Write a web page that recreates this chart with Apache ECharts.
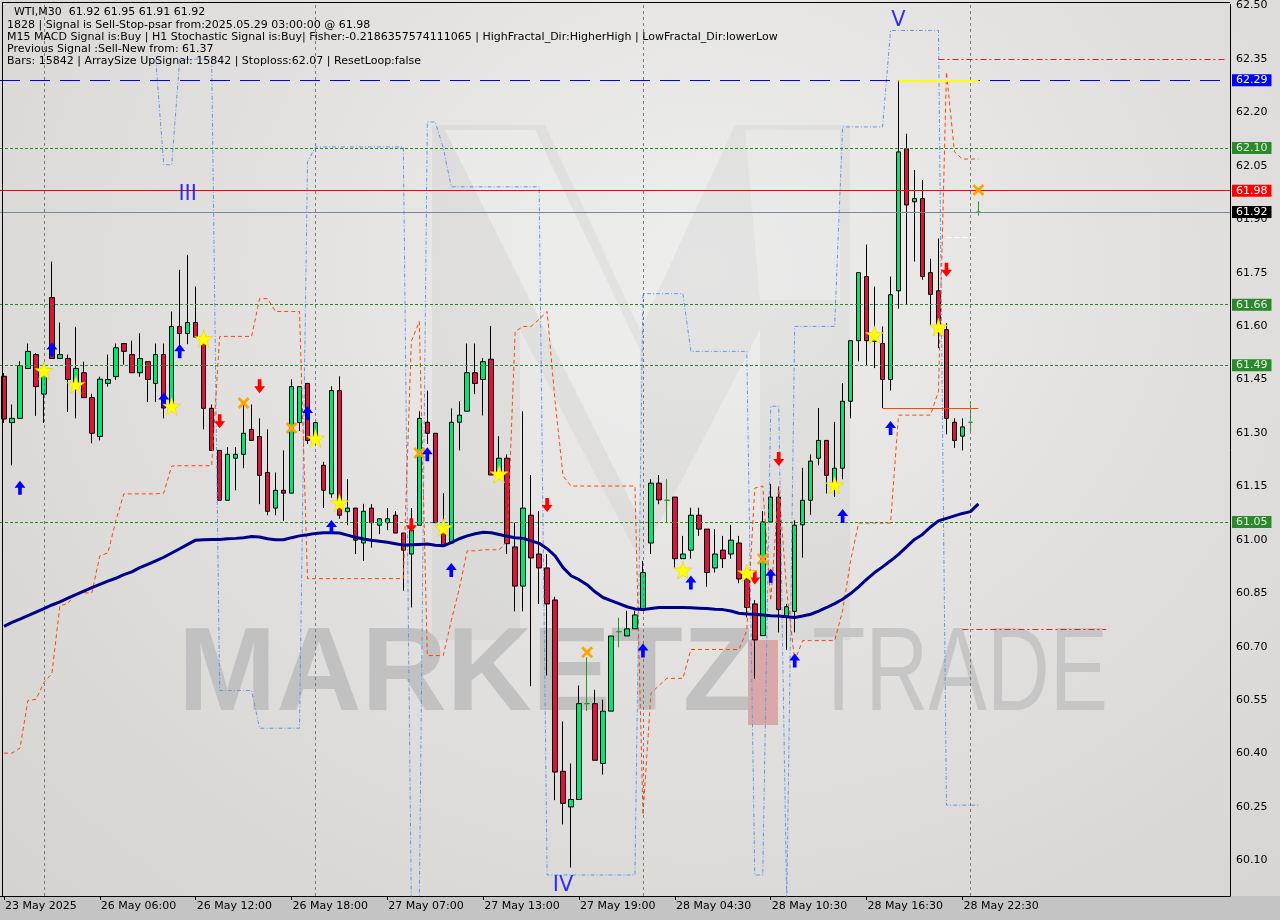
<!DOCTYPE html>
<html><head><meta charset="utf-8">
<script src="https://cdn.jsdelivr.net/npm/echarts@6/dist/echarts.min.js"></script>
<style>
html,body{margin:0;padding:0;width:1280px;height:920px;overflow:hidden;background:#c4c4c4}
#bg{position:absolute;left:0;top:0;width:1280px;height:896px;background:radial-gradient(ellipse at 55% 30%, #eeeeed 0%, #e2e1df 45%, #d5d3d0 100%)}
#chart{position:absolute;left:0;top:0;width:1280px;height:920px}
</style></head><body><div id="bg"></div><div id="chart"></div>
<script>
// ---------- data ----------
const tickIndices = [0,12,24,36,48,60,72,84,96,108,120];
const tickLabels = ['23 May 2025','26 May 06:00','26 May 12:00','26 May 18:00','27 May 07:00','27 May 13:00','27 May 19:00','28 May 04:30','28 May 10:30','28 May 16:30','28 May 22:30'];
const daySeparators = [5,39,80,121];
// candles: [open, close, low, high]
const candles = [
[61.459,61.339,61.328,61.468],[61.329,61.341,61.209,61.380],[61.341,61.489,61.341,61.501],[61.481,61.529,61.481,61.551],[61.520,61.430,61.348,61.524],
[61.409,61.464,61.328,61.496],[61.680,61.509,61.509,61.781],[61.509,61.520,61.509,61.610],[61.509,61.450,61.359,61.520],[61.426,61.481,61.341,61.598],
[61.469,61.399,61.399,61.500],[61.399,61.299,61.271,61.410],[61.290,61.451,61.279,61.458],[61.439,61.450,61.430,61.520],[61.458,61.539,61.449,61.551],
[61.551,61.529,61.492,61.551],[61.520,61.469,61.469,61.559],[61.469,61.509,61.458,61.580],[61.500,61.450,61.387,61.500],[61.439,61.520,61.387,61.551],
[61.520,61.370,61.341,61.551],[61.370,61.599,61.361,61.641],[61.599,61.579,61.529,61.758],[61.579,61.610,61.549,61.800],[61.610,61.569,61.569,61.711],
[61.557,61.369,61.310,61.576],[61.369,61.251,61.251,61.380],[61.251,61.111,61.111,61.251],[61.111,61.240,61.111,61.260],[61.229,61.240,61.139,61.260],
[61.240,61.299,61.201,61.380],[61.310,61.279,61.279,61.380],[61.290,61.181,61.100,61.341],[61.189,61.080,61.069,61.310],[61.089,61.139,61.069,61.189],
[61.139,61.131,61.053,61.251],[61.131,61.430,61.131,61.451],[61.329,61.430,61.305,61.430],[61.439,61.279,61.269,61.439],[61.279,61.329,61.279,61.329],
[61.209,61.139,61.089,61.219],[61.129,61.419,61.118,61.431],[61.419,61.069,61.059,61.459],[61.079,61.089,61.041,61.170],[61.089,60.999,60.960,61.089],
[60.991,61.080,60.941,61.101],[61.089,61.048,60.978,61.100],[61.041,61.059,61.016,61.059],[61.048,61.059,61.027,61.089],[61.069,61.019,61.019,61.081],
[61.019,60.971,60.857,61.019],[60.960,61.027,60.810,61.089],[61.041,61.341,61.041,61.361],[61.330,61.299,61.269,61.419],[61.299,61.048,61.048,61.299],
[61.025,60.983,60.983,61.131],[60.991,61.330,60.991,61.369],[61.330,61.350,61.251,61.389],[61.361,61.469,61.361,61.551],[61.469,61.439,61.409,61.551],
[61.450,61.500,61.349,61.510],[61.507,61.182,61.182,61.600],[61.182,61.229,61.182,61.291],[61.229,60.989,60.960,61.240],[60.980,60.870,60.799,61.048],
[60.870,61.089,60.799,61.361],[61.069,60.949,60.589,61.182],[60.960,60.921,60.820,61.081],[60.921,60.820,60.619,60.960],[60.831,60.348,60.269,60.840],
[60.350,60.260,60.201,60.490],[60.250,60.271,60.080,60.372],[60.271,60.540,60.271,60.591],[60.540,60.540,60.519,60.670],[60.540,60.381,60.381,60.579],
[60.372,60.519,60.341,60.551],[60.519,60.730,60.519,60.730],[60.742,60.742,60.698,60.781],[60.730,60.750,60.730,60.801],[60.750,60.789,60.750,60.801],
[60.803,60.908,60.803,60.941],[60.991,61.159,60.960,61.170],[61.159,61.112,61.100,61.182],[61.111,61.111,61.048,61.170],[61.120,60.947,60.922,61.120],
[60.947,60.960,60.947,61.011],[60.971,61.069,60.947,61.090],[61.069,61.030,61.011,61.090],[61.030,60.908,60.868,61.030],[60.921,60.960,60.908,61.030],
[60.971,60.947,60.921,61.011],[60.960,60.999,60.947,61.042],[60.991,60.890,60.878,61.011],[60.890,60.810,60.782,60.913],[60.820,60.719,60.610,60.831],
[60.731,61.050,60.731,61.081],[61.050,61.120,61.050,61.157],[61.120,60.804,60.740,61.151],[60.782,60.812,60.691,60.820],[60.799,61.041,60.740,61.055],
[61.042,61.111,60.950,61.202],[61.111,61.221,61.070,61.240],[61.229,61.279,61.209,61.370],[61.279,61.181,61.130,61.279],[61.160,61.201,61.120,61.331],
[61.201,61.389,61.170,61.440],[61.389,61.559,61.341,61.559],[61.559,61.750,61.501,61.750],[61.739,61.559,61.490,61.829],[61.557,61.577,61.482,61.711],
[61.551,61.450,61.370,61.599],[61.450,61.688,61.419,61.739],[61.699,62.089,61.649,62.290],[62.098,61.940,61.660,62.140],[61.949,61.958,61.781,62.038],
[61.958,61.739,61.730,62.010],[61.750,61.689,61.604,61.789],[61.699,61.604,61.538,61.846],[61.590,61.341,61.296,61.608],[61.330,61.279,61.258,61.341],
[61.291,61.317,61.251,61.341],[61.330,61.330,61.300,61.380],[61.920,61.920,61.910,61.950]
];
const maLine = [60.757,60.768,60.777,60.787,60.797,60.807,60.817,60.826,60.836,60.846,
60.856,60.866,60.875,60.884,60.892,60.902,60.910,60.922,60.931,60.941,
60.951,60.963,60.975,60.987,60.999,61.000,61.001,61.001,61.003,61.004,
61.006,61.009,61.008,61.003,61.000,61.000,61.006,61.011,61.014,61.018,
61.020,61.020,61.019,61.013,61.007,61.002,60.999,60.996,60.993,60.989,
60.985,60.986,60.987,60.988,60.985,60.983,60.992,61.003,61.011,61.017,
61.021,61.020,61.015,61.010,61.006,61.004,60.997,60.990,60.975,60.955,
60.922,60.899,60.888,60.874,60.854,60.838,60.829,60.821,60.812,60.806,
60.804,60.807,60.810,60.810,60.810,60.810,60.809,60.808,60.807,60.805,
60.804,60.800,60.794,60.792,60.791,60.789,60.787,60.786,60.784,60.782,
60.786,60.791,60.800,60.810,60.821,60.833,60.849,60.868,60.889,60.908,
60.924,60.941,60.959,60.980,61.001,61.015,61.036,61.053,61.060,61.067,
61.074,61.079,61.101];
const blueChannel = [null,null,null,null,null,null,null,null,null,null,
null,null,null,null,null,null,null,null,null,62.349,
62.053,62.053,62.349,62.349,62.349,62.349,62.349,60.577,60.577,60.577,
60.577,60.577,60.471,60.471,60.471,60.471,60.471,60.471,62.061,62.103,
62.103,62.103,62.103,62.103,62.103,62.103,62.103,62.103,62.103,62.103,
62.103,59.98,59.98,62.173,62.173,62.10,61.991,61.991,61.991,61.991,
61.991,61.991,61.991,61.991,61.991,61.991,61.991,61.991,60.059,60.059,
60.059,60.059,60.059,60.059,60.059,60.059,60.059,60.059,60.059,60.059,
61.691,61.691,61.691,61.691,61.691,61.691,61.529,61.529,61.529,61.529,
61.529,61.529,61.529,61.529,60.059,60.059,61.375,61.375,59.98,61.599,
61.599,61.599,61.599,61.599,61.599,62.159,62.159,62.159,62.159,62.159,
62.159,62.430,62.430,62.430,62.430,62.430,62.430,62.430,60.255,60.255,
60.255,60.255,60.255];
const orangeStop = [60.401,60.401,60.415,60.549,60.552,60.599,60.625,60.815,60.821,60.851,
60.851,60.851,60.955,60.963,61.053,61.129,61.129,61.129,61.129,61.129,
61.131,61.207,61.208,61.208,61.208,61.208,61.208,61.571,61.571,61.571,
61.571,61.571,61.677,61.677,61.641,61.641,61.641,61.641,60.891,60.891,
60.891,60.891,60.891,60.891,60.891,60.891,60.891,60.891,60.891,60.891,
60.891,61.557,61.613,60.675,60.675,60.675,60.773,60.863,60.969,60.969,
60.972,60.972,60.972,60.997,61.585,61.599,61.599,61.619,61.641,61.389,
61.179,61.151,61.151,61.151,61.151,61.151,61.151,61.151,61.151,61.151,
60.227,60.569,60.591,60.611,60.611,60.611,60.692,60.692,60.692,60.692,
60.692,60.692,60.692,60.745,61.145,61.151,60.829,61.151,60.857,60.661,
60.717,60.717,60.717,60.717,60.717,60.801,60.941,61.047,61.047,61.047,
61.047,61.047,61.350,61.350,61.350,61.350,61.350,61.417,62.313,62.089,
62.069,62.069,62.069];
const upArrows = [[2,61.146],[6,61.534],[20,61.394],[22,61.529],[38,61.356],[41,61.036],[53,61.240],[56,60.915],[80,60.689],[86,60.880],[96,60.899],[99,60.661],[105,61.067],[111,61.314]];
const downArrows = [[27,61.333],[32,61.431],[51,61.041],[68,61.098],[94,60.894],[97,61.227],[118,61.758]];
const stars = [[5,61.475],[9,61.436],[21,61.375],[25,61.565],[39,61.285],[42,61.104],[55,61.034],[62,61.185],[85,60.915],[93,60.907],[104,61.154],[109,61.576],[117,61.597]];
const crosses = [[30,61.384],[36,61.314],[52,61.244],[73,60.684],[95,60.946],[122,61.982]];
const waveLabels = [[23,61.969,'III'],[112,62.459,'V'],[70,60.028,'IV']];
const levelBlue = 62.29, levelRed = 61.98, levelBid = 61.92;
const levelsGreen = [62.10, 61.66, 61.49, 61.05];
const signalHigh = 62.29, signalHighFrom = 112, signalHighTo = 122;
const stopLevel = 62.35, stopFrom = 117, stopTo = 153;
const prevSignal = 61.37, prevFrom = 110, prevTo = 122;
const targetLevel = 60.75, targetFrom = 120, targetTo = 138;
const whiteLevel = 61.85, whiteFrom = 118, whiteTo = 122;
const headerLines = [
 '  WTI,M30  61.92 61.95 61.91 61.92',
 '1828 | Signal is Sell-Stop-psar from:2025.05.29 03:00:00 @ 61.98',
 'M15 MACD Signal is:Buy | H1 Stochastic Signal is:Buy| Fisher:-0.2186357574111065 | HighFractal_Dir:HigherHigh | LowFractal_Dir:lowerLow',
 'Previous Signal :Sell-New from: 61.37',
 'Bars: 15842 | ArraySize UpSignal: 15842 | Stoploss:62.07 | ResetLoop:false'
];
// ---------- chart ----------
const NSLOT = 154;
const categories = Array.from({length: NSLOT}, (_, i) => String(i));
const FONT = 'DejaVu Sans';
const chart = echarts.init(document.getElementById('chart'), null, {renderer: 'canvas'});

function lvlLabel(bg, fg, v){
  return {show:true, position:'end', distance:2, formatter: v.toFixed(2), backgroundColor:bg, color:fg,
    padding:[1,4,0,4], fontSize:11, fontFamily:FONT};
}
const markData = [];
daySeparators.forEach(i => markData.push({xAxis:i, lineStyle:{color:'#7a7a7a', type:[3,3], width:1}, label:{show:false}}));
markData.push({yAxis:levelBlue, lineStyle:{color:'#0000ff', type:[20,10], width:1}, label:lvlLabel('#0000ff','#ffffff',levelBlue)});
levelsGreen.forEach(v => markData.push({yAxis:v, lineStyle:{color:'#2a8a2a', type:[3,2], width:1}, label:lvlLabel('#2a8a2a','#e8e8e8',v)}));
markData.push({yAxis:levelRed, lineStyle:{color:'#ff0000', type:'solid', width:1}, label:lvlLabel('#ff0000','#ffffff',levelRed)});
markData.push({yAxis:levelBid, lineStyle:{color:'#778899', type:'solid', width:1}, label:lvlLabel('#000000','#ffffff',levelBid)});
function seg(v, a, b, style){ return [{coord:[a, v], lineStyle:style, label:{show:false}}, {coord:[b, v]}]; }
markData.push(seg(signalHigh, signalHighFrom, signalHighTo, {color:'#ffff00', width:2, type:'solid'}));
markData.push(seg(stopLevel, stopFrom, stopTo, {color:'#d42020', width:1, type:[6,3,2,3]}));
markData.push(seg(prevSignal, prevFrom, prevTo, {color:'#ff4500', width:1, type:'solid'}));
markData.push(seg(targetLevel, targetFrom, targetTo, {color:'#e02020', width:1, type:[6,3,2,3]}));
markData.push(seg(whiteLevel, whiteFrom, whiteTo, {color:'#ffffff', width:1, type:[5,3]}));

const upPath = 'path://M6,0 L12,7 L8,7 L8,14 L4,14 L4,7 L0,7 Z';
const downPath = 'path://M4,0 L8,0 L8,7 L12,7 L6,14 L0,7 L4,7 Z';
const starPath = 'path://M50,0 L61,35 L98,35 L68,57 L79,91 L50,70 L21,91 L32,57 L2,35 L39,35 Z';
const xPath = 'path://M0,2 L2,0 L6,4 L10,0 L12,2 L8,6 L12,10 L10,12 L6,8 L2,12 L0,10 L4,6 Z';

const graphics = [
  // faint logo "M" behind the chart
  {type:'polygon', z:0, silent:true, shape:{points:[[432,640],[432,125],[545,125],[640,330],[735,125],[850,125],[850,640],[760,640],[760,330],[640,560],[520,330],[520,640]]},
    style:{fill:'rgba(150,150,150,0.10)'}},
  {type:'polygon', z:0, silent:true, shape:{points:[[445,130],[535,130],[640,350],[640,520]]}, style:{fill:'rgba(255,255,255,0.35)'}},
  {type:'polygon', z:0, silent:true, shape:{points:[[745,130],[840,130],[840,300],[760,300]]}, style:{fill:'rgba(255,255,255,0.25)'}},
  {type:'text', z:0, silent:true, style:{text:'MARKETZ', x:178, y:677, verticalAlign:'middle', font:'bold 118px "Liberation Sans"', fill:'#c1c1c1'}},
  {type:'rect', z:0, silent:true, shape:{x:748, y:640, width:30, height:85}, style:{fill:'#d9a9a9'}},
  {type:'text', z:0, silent:true, scaleX:0.74, x:812, style:{text:'TRADE', x:0, y:677, verticalAlign:'middle', font:'118px "Liberation Sans"', fill:'#c6c6c6'}},
  {type:'line', z:50, silent:true, shape:{x1:2.5, y1:2, x2:2.5, y2:896}, style:{stroke:'#000', lineWidth:1}},
  {type:'line', z:50, silent:true, shape:{x1:2, y1:2.5, x2:1230, y2:2.5}, style:{stroke:'#000', lineWidth:1}}
];
const lineYs = [12, 25, 37, 49, 61];
headerLines.forEach((t, i) => graphics.push({type:'text', z:60, silent:true,
  style:{text:t, x:7, y:lineYs[i], verticalAlign:'middle', font:'11px "' + FONT + '"', fill:'#000'}}));

function yFmt(v){
  const c = Math.round(v*100);
  if (Math.abs(v*100 - c) > 1e-4) return '';
  return ((c - 6010) % 15 === 0) ? (c/100).toFixed(2) : '';
}
const tickSet = new Set(tickIndices);

chart.setOption({
  animation:false,
  backgroundColor:'transparent',
  grid:{left:0, right:50, top:2, bottom:24, show:false},
  xAxis:{type:'category', data:categories, boundaryGap:true,
    axisLine:{show:true, lineStyle:{color:'#000', width:1}},
    axisTick:{show:true, interval:(i)=>tickSet.has(i), alignWithLabel:true, length:4, lineStyle:{color:'#000'}},
    axisLabel:{interval:(i)=>tickSet.has(i), formatter:(v, i)=>{const k=tickIndices.indexOf(i); return k>=0?tickLabels[k]:'';},
      align:'left', padding:[0,0,0,1], margin:5, color:'#000', fontSize:11, fontFamily:FONT},
    splitLine:{show:false}},
  yAxis:{type:'value', position:'right', min:60.0, max:62.503, interval:0.05, scale:true,
    axisLine:{show:true, lineStyle:{color:'#000'}}, axisTick:{show:false}, splitLine:{show:false},
    axisLabel:{formatter:yFmt, margin:6, color:'#000', fontSize:11, fontFamily:FONT, showMinLabel:true, showMaxLabel:true}},
  graphic:{elements:graphics},
  series:[
    {type:'candlestick', data:candles, barWidth:5, z:3,
      itemStyle:{color:'#00e676', color0:'#dc143c', borderColor:'#000', borderColor0:'#000', borderColorDoji:'#1f9a1f', borderWidth:1},
      markLine:{silent:true, symbol:['none','none'], animation:false, data:markData}},
    {type:'line', data:blueChannel, z:4, symbol:'none', connectNulls:false,
      lineStyle:{color:'#6495ed', width:1, type:[4,2,1,2]}},
    {type:'line', data:orangeStop, z:4, symbol:'none',
      lineStyle:{color:'#ff4500', width:1, type:[4,3]}},
    {type:'line', data:maLine, z:5, symbol:'none', lineStyle:{color:'#00008b', width:3}},
    {type:'scatter', data:upArrows, z:6, symbol:upPath, symbolSize:[11,14], itemStyle:{color:'#0000ff', opacity:1}},
    {type:'scatter', data:downArrows, z:6, symbol:downPath, symbolSize:[11,14], itemStyle:{color:'#ff0000', opacity:1}},
    {type:'scatter', data:stars, z:6, symbol:starPath, symbolSize:18, itemStyle:{color:'#ffff00', borderColor:'#e6c800', borderWidth:0.5, opacity:1}},
    {type:'scatter', data:crosses, z:6, symbol:xPath, symbolSize:12, itemStyle:{color:'#ffa500', opacity:1}},
    {type:'scatter', data:waveLabels, z:6, symbolSize:1, itemStyle:{color:'rgba(0,0,0,0)'},
      label:{show:true, position:'inside', formatter:(p)=>p.data[2], color:'#0000ff', fontSize:21, fontFamily:FONT}}
  ]
});
</script></body></html>
